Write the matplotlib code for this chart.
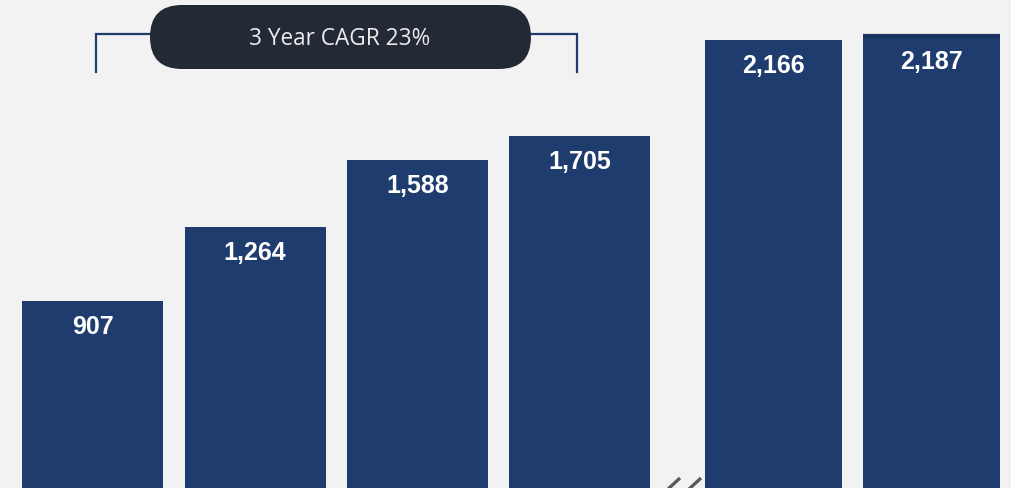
import matplotlib
matplotlib.use("Agg")
import matplotlib.pyplot as plt
from matplotlib.patches import FancyBboxPatch
from matplotlib.transforms import Affine2D
from matplotlib.lines import Line2D

# Data
values = [907, 1264, 1588, 1705, 2166, 2187]
value_labels = ["907", "1,264", "1,588", "1,705", "2,166", "2,187"]
cagr_label = "3 Year CAGR 23%"

W, H = 1012, 488
BG = "#f2f2f2"
NAVY = "#1f3c6f"
PILL = "#232a35"

fig = plt.figure(figsize=(W / 100, H / 100), dpi=100, facecolor=BG)
ax = fig.add_axes([0, 0, 1, 1])
ax.set_facecolor(BG)
ax.set_xlim(0, W)
ax.set_ylim(0, 2361)
ax.axis("off")

# Two groups of bars separated by an axis break
centers = [92.8 + 162.3 * i for i in range(4)] + [773.5, 931.7]
widths = [141] * 4 + [137.6] * 2

bars = ax.bar(centers, values, width=widths, color=NAVY, linewidth=0)

for c, v, lab in zip(centers, values, value_labels):
    ax.annotate(lab, (c, v), xytext=(0, -26), textcoords="offset pixels",
                ha="center", va="center", color="white", fontsize=18,
                fontweight="bold", family="Liberation Sans")

# darker rim on the final bar
last = bars[-1]
ax.plot([last.get_x(), last.get_x() + last.get_width()], [values[-1], values[-1]],
        color="#1a335f", lw=3, solid_capstyle="butt", zorder=3)

# pixel-space transform (origin top-left)
px = Affine2D().scale(1, -1).translate(0, H)

# bracket
for seg in ([(96, 72), (96, 34), (200, 34)], [(480, 34), (577, 34), (577, 72)]):
    xs, ys = zip(*seg)
    fig.add_artist(Line2D(xs, ys, transform=px, color=NAVY, lw=1.6,
                          solid_joinstyle="miter"))

# CAGR pill
pill = FancyBboxPatch((150, 5), 381, 64,
                      boxstyle="round,pad=0,rounding_size=32",
                      transform=px, facecolor=PILL, edgecolor="none", zorder=5)
fig.add_artist(pill)
fig.text(340, 39, cagr_label, transform=px, ha="center", va="center",
         color="#ececec", fontsize=16.3, family="Open Sans", zorder=6)

# axis break marks
for x0 in (667, 688):
    fig.add_artist(Line2D([x0, x0 + 13], [490, 478], transform=px,
                          color="#595959", lw=2.4, solid_capstyle="butt"))

fig.savefig("out.png", dpi=100, facecolor=BG)
